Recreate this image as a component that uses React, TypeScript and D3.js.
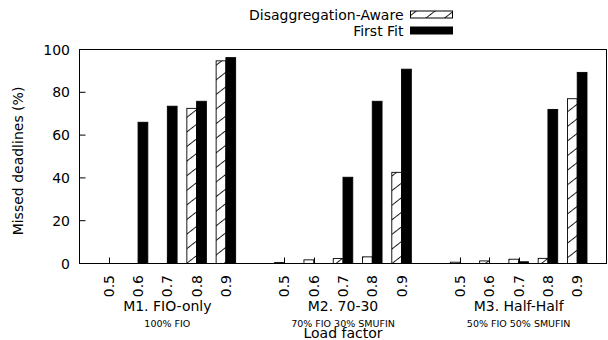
import React from "react";
import * as d3 from "d3";

const groups = ["M1. FIO-only", "M2. 70-30", "M3. Half-Half"];
const subtitles = ["100% FIO", "70% FIO 30% SMUFIN", "50% FIO 50% SMUFIN"];
const loadFactors = ["0.5", "0.6", "0.7", "0.8", "0.9"];
const disaggAware = [
  [0, 0, 0, 72.5, 94.7],
  [0.5, 1.7, 2.3, 3.1, 42.6],
  [0.6, 1.2, 2.0, 2.4, 77.0],
];
const firstFit = [
  [0, 66, 73.5, 75.8, 96.2],
  [0, 0, 40.3, 75.8, 90.8],
  [0, 0, 0.8, 72.0, 89.3],
];
const yTicks = [0, 20, 40, 60, 80, 100];
const seriesNames = ["Disaggregation-Aware", "First Fit"];

const W = 608;
const H = 340;
const FONT = "DejaVu Sans";

export default function App() {
  const x = d3.scaleLinear().domain([-1, 17]).range([79.5, 606.5]);
  const y = d3.scaleLinear().domain([0, 100]).range([263.5, 49.5]);
  const unit = x(1) - x(0);
  const bw = unit / 3;

  const items: { g: number; i: number; pos: number }[] = [];
  groups.forEach((_, g) =>
    loadFactors.forEach((__, i) => items.push({ g, i, pos: g * 6 + i }))
  );

  return (
    <svg
      width={W}
      height={H}
      style={{ position: "absolute", left: 0, top: 0, background: "#fff" }}
      fontFamily={FONT}
    >
      <defs>
        <pattern
          id="hatch"
          patternUnits="userSpaceOnUse"
          width={10}
          height={11.5}
          patternTransform="rotate(-38)"
        >
          <rect width={10} height={11.5} fill="#fff" />
          <line x1={-1} y1={0.5} x2={11} y2={0.5} stroke="#000" strokeWidth={0.9} />
        </pattern>
      </defs>
      <rect width={W} height={H} fill="#fff" />

      {/* bars */}
      {items.map(({ g, i, pos }) => {
        const c = x(pos);
        const da = disaggAware[g][i];
        const ff = firstFit[g][i];
        return (
          <g key={`b${g}-${i}`}>
            {da > 0 && (
              <rect
                x={c - bw}
                y={y(da)}
                width={bw}
                height={y(0) - y(da)}
                fill="url(#hatch)"
                stroke="#000"
                strokeWidth={0.9}
              />
            )}
            {ff > 0 && (
              <rect
                x={c}
                y={y(ff)}
                width={bw}
                height={y(0) - y(ff)}
                fill="#000"
                stroke="#000"
                strokeWidth={0.9}
              />
            )}
          </g>
        );
      })}

      {/* frame */}
      <rect
        x={x(-1)}
        y={y(100)}
        width={x(17) - x(-1)}
        height={y(0) - y(100)}
        fill="none"
        stroke="#000"
        strokeWidth={1}
      />

      {/* y ticks */}
      {yTicks.map((t) => (
        <g key={`y${t}`}>
          <line x1={x(-1)} x2={x(-1) + 6} y1={y(t)} y2={y(t)} stroke="#000" />
          <text
            x={70}
            y={y(t)}
            dy="0.36em"
            textAnchor="end"
            fontSize={14}
            fill="#000"
          >
            {t}
          </text>
        </g>
      ))}

      {/* x ticks */}
      {items.map(({ g, i, pos }) => (
        <g key={`x${g}-${i}`}>
          <line
            x1={Math.round(x(pos)) + 0.5}
            x2={Math.round(x(pos)) + 0.5}
            y1={y(0)}
            y2={y(0) - 6}
            stroke="#000"
          />
          <text
            transform={`translate(${x(pos)},${275}) rotate(-90)`}
            dy="0.36em"
            textAnchor="end"
            fontSize={14}
            fill="#000"
          >
            {loadFactors[i]}
          </text>
        </g>
      ))}

      {/* group labels */}
      {groups.map((name, g) => (
        <g key={`gl${g}`}>
          <text
            x={x(g * 6 + 2)}
            y={311}
            textAnchor="middle"
            fontSize={14}
            fill="#000"
          >
            {name}
          </text>
          <text
            x={x(g * 6 + 2)}
            y={326.5}
            textAnchor="middle"
            fontSize={9.5}
            fill="#000"
          >
            {subtitles[g]}
          </text>
        </g>
      ))}

      {/* axis titles */}
      <text
        x={(x(-1) + x(17)) / 2}
        y={338}
        textAnchor="middle"
        fontSize={14}
        fill="#000"
      >
        Load factor
      </text>
      <text
        transform={`translate(23,161) rotate(-90)`}
        textAnchor="middle"
        fontSize={14}
        fill="#000"
      >
        Missed deadlines (%)
      </text>

      {/* legend */}
      {seriesNames.map((s, k) => {
        const by = k === 0 ? 20 : 36;
        return (
          <g key={`lg${k}`}>
            <text x={403.5} y={by} textAnchor="end" fontSize={14} fill="#000">
              {s}
            </text>
            <rect
              x={410.5}
              y={by - 9}
              width={42}
              height={7}
              fill={k === 0 ? "url(#hatch)" : "#000"}
              stroke="#000"
              strokeWidth={1}
            />
          </g>
        );
      })}
    </svg>
  );
}
